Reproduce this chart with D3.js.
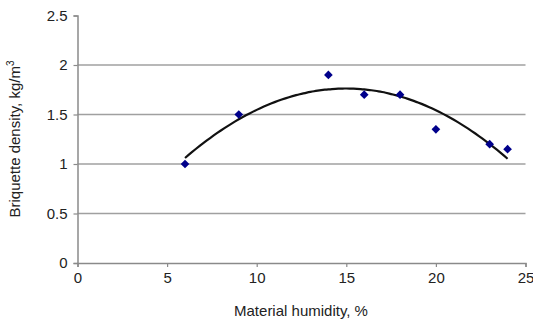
<!DOCTYPE html>
<html>
<head>
<meta charset="utf-8">
<script src="https://cdn.jsdelivr.net/npm/d3@7"></script>
<style>
  body { margin: 0; background: #fff; }
  text { font-family: "Liberation Sans", Arial, sans-serif; }
</style>
</head>
<body>
<script>
// measured points
const humidity = [6, 9, 14, 16, 18, 20, 23, 24];
const density = [1.0, 1.5, 1.9, 1.7, 1.7, 1.35, 1.2, 1.15];
const xTicks = [0, 5, 10, 15, 20, 25];
const yTicks = [0, 0.5, 1, 1.5, 2, 2.5];

const width = 533;
const height = 323;
const margin = { top: 16, right: 8, bottom: 60, left: 77.5 };

const svg = d3.select("body").append("svg")
  .attr("width", width)
  .attr("height", height);

const x = d3.scaleLinear()
  .domain([0, 25])
  .range([margin.left, 525.5]);

const y = d3.scaleLinear()
  .domain([0, 2.5])
  .range([263, 15.5]);

// gridlines (not at the top)
svg.append("g")
  .attr("stroke", "#a0a0a0")
  .attr("stroke-width", 1.6)
  .selectAll("line")
  .data(yTicks.filter(d => d > 0 && d < 2.5))
  .join("line")
  .attr("x1", x(0))
  .attr("x2", x(25))
  .attr("y1", d => y(d))
  .attr("y2", d => y(d));

const xAxis = svg.append("g")
  .attr("transform", `translate(0,${y(0)})`)
  .call(d3.axisBottom(x).tickValues(xTicks).tickSize(4).tickPadding(5).tickFormat(d3.format("")));

const yAxis = svg.append("g")
  .attr("transform", `translate(${x(0)},0)`)
  .call(d3.axisLeft(y).tickValues(yTicks).tickSize(4).tickPadding(6).tickFormat(d3.format("")));

[xAxis, yAxis].forEach(g => {
  g.select(".domain").attr("stroke", "#8a8a8a").attr("stroke-width", 1.5);
  g.selectAll(".tick line").attr("stroke", "#8a8a8a").attr("stroke-width", 1.2);
  g.selectAll(".tick text")
    .attr("fill", "#222")
    .style("font-size", "15px")
    .style("font-family", "'Liberation Sans', Arial, sans-serif");
});

// polynomial (order 2) least-squares trendline
function quadFit(xs, ys) {
  let s = [0, 0, 0, 0, 0], t = [0, 0, 0];
  xs.forEach((xi, i) => {
    for (let k = 0; k < 5; k++) s[k] += Math.pow(xi, k);
    for (let k = 0; k < 3; k++) t[k] += ys[i] * Math.pow(xi, k);
  });
  const A = [[s[0], s[1], s[2], t[0]], [s[1], s[2], s[3], t[1]], [s[2], s[3], s[4], t[2]]];
  for (let i = 0; i < 3; i++) {
    for (let j = i + 1; j < 3; j++) {
      const f = A[j][i] / A[i][i];
      for (let k = i; k < 4; k++) A[j][k] -= f * A[i][k];
    }
  }
  const c = [0, 0, 0];
  for (let i = 2; i >= 0; i--) {
    let v = A[i][3];
    for (let k = i + 1; k < 3; k++) v -= A[i][k] * c[k];
    c[i] = v / A[i][i];
  }
  return c;
}

const coef = quadFit(humidity, density);
const fitPts = d3.range(6, 24.001, 0.2).map(h => [h, coef[0] + coef[1] * h + coef[2] * h * h]);

svg.append("path")
  .attr("fill", "none")
  .attr("stroke", "#111")
  .attr("stroke-width", 2.2)
  .attr("d", d3.line().x(d => x(d[0])).y(d => y(d[1])).curve(d3.curveMonotoneX)(fitPts));

svg.append("g")
  .attr("fill", "#00008b")
  .selectAll("path")
  .data(humidity.map((h, i) => ({ h, d: density[i] })))
  .join("path")
  .attr("transform", d => `translate(${x(d.h)},${y(d.d)})`)
  .attr("d", d3.symbol(d3.symbolDiamond2, 48));

// axis titles
svg.append("text")
  .attr("x", 301)
  .attr("y", 316)
  .attr("text-anchor", "middle")
  .attr("fill", "#222")
  .style("font-size", "15px")
  .text("Material humidity, %");

const yt = svg.append("text")
  .attr("transform", "translate(20,139) rotate(-90)")
  .attr("text-anchor", "middle")
  .attr("fill", "#222")
  .style("font-size", "15px");
yt.append("tspan").text("Briquette density, kg/m");
yt.append("tspan").attr("dy", -6).style("font-size", "10px").text("3");
</script>
</body>
</html>
